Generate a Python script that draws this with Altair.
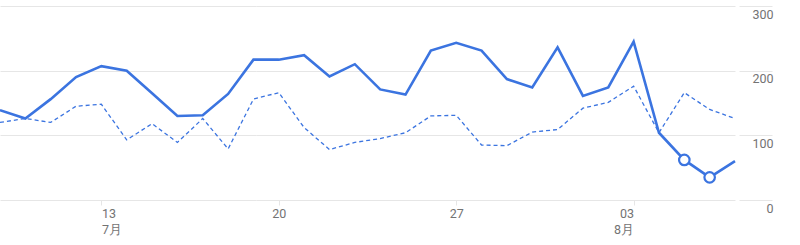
import altair as alt
import pandas as pd

dates = pd.date_range("2025-07-09", "2025-08-07", freq="D").strftime("%Y-%m-%d").tolist()
current = [139, 126, 156, 190, 207, 200, 165, 130, 131, 164, 217, 217, 224, 191, 210,
           171, 163, 231, 243, 231, 187, 174, 236, 161, 174, 245, 104, 62, 35, 60]
previous = [120, 126, 120, 145, 148, 93, 118, 89, 126, 79, 156, 166, 112, 78, 89,
            95, 104, 130, 131, 85, 84, 105, 109, 142, 151, 176, 104, 166, 140, 126]
marked = ["2025-08-05", "2025-08-06"]
y_ticks = [0, 100, 200, 300]

df = pd.DataFrame({"date": dates, "current": current, "previous": previous})
df["marked"] = df["date"].isin(marked)

BLUE = "#3b74e0"
GRID = "#e6e6e6"
LABEL = "#737373"

x_enc = alt.X(
    "date:T",
    scale=alt.Scale(type="utc", nice=False,
                    domain=[alt.DateTime(year=2025, month=7, date=9, utc=True),
                            alt.DateTime(year=2025, month=8, date=7, utc=True)]),
    axis=alt.Axis(
        title=None,
        values=[alt.DateTime(year=2025, month=7, date=13, utc=True),
                alt.DateTime(year=2025, month=7, date=20, utc=True),
                alt.DateTime(year=2025, month=7, date=27, utc=True),
                alt.DateTime(year=2025, month=8, date=3, utc=True)],
        labelExpr="utcFormat(datum.value,'%d')=='13' ? ['13','7月'] : "
                  "(utcFormat(datum.value,'%d')=='03' ? ['03','8月'] : utcFormat(datum.value,'%d'))",
        labelAlign={"condition": [
            {"test": "utcFormat(datum.value,'%d')=='13'", "value": "left"},
            {"test": "utcFormat(datum.value,'%d')=='03'", "value": "right"}],
            "value": "center"},
        grid=False, domain=False, tickSize=5, tickColor=GRID,
        labelPadding=2, labelLineHeight=16, labelFontSize=12.5,
        labelColor=LABEL, labelFont="Roboto",
    ),
)

y_axis = alt.Axis(
    title=None, orient="right", values=y_ticks, grid=True, gridColor=GRID,
    domain=False, tickSize=33, offset=4, tickColor=GRID,
    labelAlign="right", labelBaseline="top", labelOffset=2, labelPadding=1,
    labelFontSize=12.5, labelColor=LABEL, labelFont="Roboto",
)
y_scale = alt.Scale(domain=[0, 300], nice=False)

base = alt.Chart(df).encode(x=x_enc)

cur_line = base.mark_line(color=BLUE, strokeWidth=2.6).encode(
    y=alt.Y("current:Q", scale=y_scale, axis=y_axis)
)
prev_line = base.mark_line(color=BLUE, strokeWidth=1.3, strokeDash=[4, 3]).encode(
    y=alt.Y("previous:Q", scale=y_scale, axis=y_axis)
)
points = base.transform_filter("datum.marked").mark_point(
    shape="circle", filled=True, fill="white", stroke=BLUE, strokeWidth=2.2, size=110, opacity=1
).encode(y=alt.Y("current:Q", scale=y_scale, axis=y_axis))

chart = alt.layer(cur_line, prev_line, points).properties(
    width=735, height=194,
    autosize=alt.AutoSizeParams(type="none"),
    padding={"left": 0, "top": 6, "right": 65, "bottom": 45},
).configure_view(strokeWidth=0)

chart.save("out.html", embed_options={"renderer": "svg", "actions": False})
